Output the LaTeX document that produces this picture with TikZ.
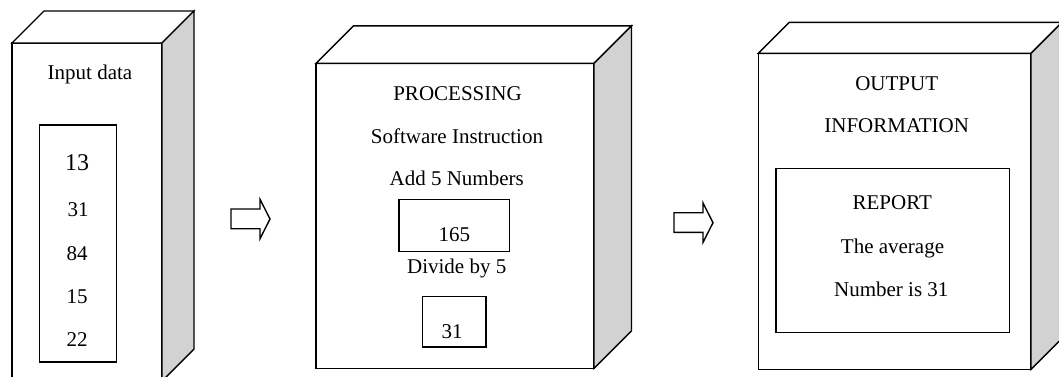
\documentclass[tikz,border=0pt]{standalone}
\usepackage{fontspec}
\setmainfont{Liberation Serif}
\usetikzlibrary{calc}
\definecolor{sidegray}{RGB}{210,210,210}

\tikzset{
  edge/.style={line width=1.4pt, line join=miter},
  frontface/.style={edge, draw, fill=white, inner sep=0pt, outer sep=0pt, anchor=north west},
  sideface/.style={edge, draw, fill=sidegray},
  topface/.style={edge, draw, fill=white},
  innerbox/.style={edge, draw, inner sep=0pt, outer sep=0pt, anchor=north west},
  label/.style={anchor=base, inner sep=0pt, font=\fontsize{21}{25}\selectfont},
  bignum/.style={anchor=base, inner sep=0pt, font=\fontsize{24}{28}\selectfont},
  blockarrow/.pic={
    \draw[edge] (0,0) -- ++(29,0) -- ++(0,-9.7) -- ++(10,19.7)
      -- ++(-10,19.7) -- ++(0,-10) -- ++(-29,0) -- cycle;
  }
}

% a box drawn in oblique projection: name, x, y, width, height, depth
\newcommand\solidbox[6]{%
  \node[frontface, minimum width=#4, minimum height=#5] (#1) at (#2,#3) {};
  \draw[topface] (#1.north west) -- ++(#6,-#6)
    -- ($(#1.north east)+(#6,-#6)$) -- (#1.north east) -- cycle;
  \draw[sideface] (#1.north east) -- ++(#6,-#6)
    -- ($(#1.south east)+(#6,-#6)$) -- (#1.south east) -- cycle;
}

\begin{document}
\begin{tikzpicture}[x=1pt, y=-1pt]
\useasboundingbox (0,0) rectangle (1059,376);

% ---- input ----
\solidbox{input}{12}{43}{150}{338}{32}
\node[label] (inlabel) at (90,79) {Input data};
\node[innerbox, minimum width=77.4, minimum height=237] (data) at (39.3,125) {};
\node[bignum] (n1) at (77,170.7) {13};
\node[label] (n2) at (78,216) {31};
\node[label] (n3) at (77,260) {84};
\node[label] (n4) at (77,303) {15};
\node[label] (n5) at (77,346.5) {22};

% ---- processing ----
\solidbox{proc}{316}{63.3}{278}{305}{37.5}
\node[label] (plabel) at (457.5,100) {PROCESSING};
\node[label] (soft) at (457,143.3) {Software Instruction};
\node[label] (add) at (456.7,185.7) {Add 5 Numbers};
\node[innerbox, minimum width=110.5, minimum height=52.4] (sumbox) at (399,199.3) {};
\node[label] (sum) at (454.3,241.7) {165};
\node[label] (divide) at (456.7,273.3) {Divide by 5};
\node[innerbox, minimum width=63.7, minimum height=50.4] (avgbox) at (422.3,296.5) {};
\begin{scope}
  % the last line of the small box is cut off at its foot
  \clip (avgbox.north west) rectangle ($(avgbox.east)+(0,16.3)$);
  \node[label] (avg) at (452,338) {31};
\end{scope}

% ---- output ----
\solidbox{out}{758.3}{53.3}{272.7}{316}{31}
\node[label] (olabel1) at (896.7,90) {OUTPUT};
\node[label] (olabel2) at (896.7,132.7) {INFORMATION};
\node[innerbox, minimum width=233.3, minimum height=164.4] (report) at (776,168.3) {};
\node[label] (rtitle) at (892.2,209) {REPORT};
\node[label] (rline1) at (892.5,253.3) {The average};
\node[label] (rline2) at (891.3,296) {Number is 31};

% ---- flow arrows ----
\coordinate (arr1) at (231,209);
\coordinate (arr2) at (674,212.7);
\pic at (arr1) {blockarrow};
\pic at (arr2) {blockarrow};
\end{tikzpicture}
\end{document}
